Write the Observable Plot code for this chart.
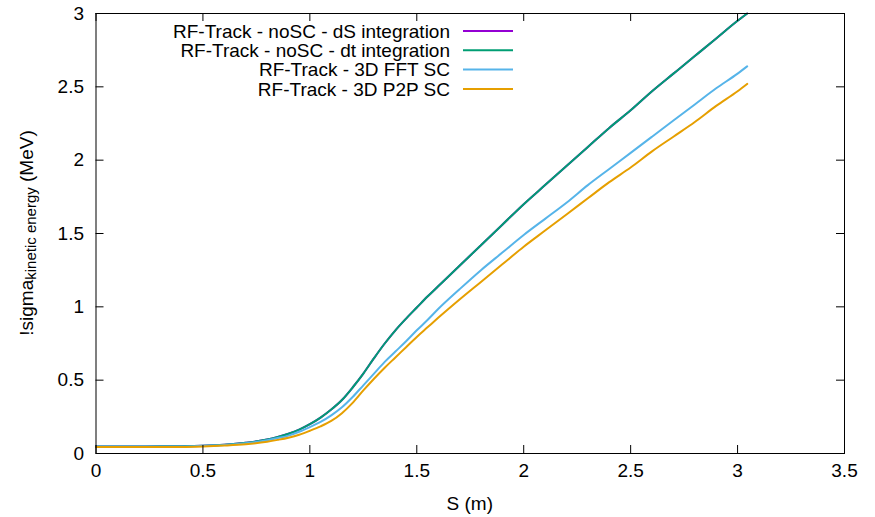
<!DOCTYPE html>
<html><head><meta charset="utf-8">
<script src="https://cdn.jsdelivr.net/npm/d3@7"></script>
<script src="https://cdn.jsdelivr.net/npm/@observablehq/plot@0.6"></script>
<style>body{margin:0;background:#fff}</style>
</head><body><div id="chart"></div>
<script>
// S positions (m)
const S = [0, 0.1, 0.2, 0.3, 0.4, 0.5, 0.6, 0.7, 0.8, 0.85, 0.9, 0.95, 1.0, 1.05, 1.1, 1.15, 1.2, 1.25, 1.3, 1.35, 1.4, 1.45, 1.5, 1.55, 1.6, 1.7, 1.8, 1.9, 2.0, 2.1, 2.2, 2.3, 2.4, 2.5, 2.6, 2.7, 2.8, 2.9, 3.0, 3.045];
// sigma kinetic energy (MeV)
const noSC_dS = [0.048, 0.048, 0.048, 0.049, 0.050, 0.053, 0.060, 0.073, 0.095, 0.113, 0.135, 0.163, 0.200, 0.245, 0.300, 0.365, 0.450, 0.545, 0.650, 0.750, 0.840, 0.920, 0.995, 1.070, 1.140, 1.280, 1.420, 1.560, 1.700, 1.830, 1.960, 2.090, 2.220, 2.340, 2.470, 2.590, 2.710, 2.830, 2.950, 3.000];
const noSC_dt = [0.048, 0.048, 0.048, 0.049, 0.050, 0.053, 0.060, 0.073, 0.095, 0.113, 0.135, 0.163, 0.200, 0.245, 0.300, 0.365, 0.450, 0.545, 0.650, 0.750, 0.840, 0.920, 0.995, 1.070, 1.140, 1.280, 1.420, 1.560, 1.700, 1.830, 1.960, 2.090, 2.220, 2.340, 2.470, 2.590, 2.710, 2.830, 2.950, 3.000];
const fftSC = [0.048, 0.048, 0.048, 0.048, 0.048, 0.052, 0.058, 0.070, 0.090, 0.105, 0.122, 0.148, 0.180, 0.215, 0.260, 0.315, 0.385, 0.465, 0.545, 0.625, 0.695, 0.765, 0.840, 0.910, 0.985, 1.120, 1.250, 1.370, 1.490, 1.600, 1.710, 1.830, 1.940, 2.050, 2.160, 2.270, 2.380, 2.490, 2.590, 2.640];
const p2pSC = [0.045, 0.045, 0.045, 0.045, 0.045, 0.048, 0.054, 0.063, 0.080, 0.093, 0.108, 0.128, 0.155, 0.185, 0.222, 0.275, 0.345, 0.430, 0.510, 0.585, 0.655, 0.725, 0.795, 0.860, 0.925, 1.050, 1.170, 1.290, 1.410, 1.520, 1.630, 1.740, 1.850, 1.950, 2.060, 2.160, 2.260, 2.370, 2.470, 2.520];

const seriesNames = ["RF-Track - noSC - dS integration", "RF-Track - noSC - dt integration", "RF-Track - 3D FFT SC", "RF-Track - 3D P2P SC"];
const seriesColors = ["#9400d3", "#009e73", "#56b4e9", "#e69f00"];
const seriesValues = [noSC_dS, noSC_dt, fftSC, p2pSC];

const xTicks = [0, 0.5, 1, 1.5, 2, 2.5, 3, 3.5];
const yTicks = [0, 0.5, 1, 1.5, 2, 2.5, 3];
const xLabel = "S (m)";

const W = 875, H = 517;
const mL = 95.5, mR = 31, mT = 13, mB = 64;
const innerH = H - mT - mB, innerW = W - mL - mR;
const tick = 8;

const lineMarks = seriesValues.map((vals, i) =>
  Plot.line(S.map((s, j) => ({s, v: vals[j]})), {x: "s", y: "v", stroke: seriesColors[i], strokeWidth: 2, curve: "monotone-x"})
);

const font = "'Liberation Sans', Arial, Helvetica, sans-serif";
const fs = "19px";
const plot = Plot.plot({
  width: W, height: H,
  marginLeft: mL, marginRight: mR, marginTop: mT, marginBottom: mB,
  style: {fontFamily: font, fontSize: fs, color: "black", background: "white", overflow: "visible"},
  x: {domain: [0, 3.5], label: null},
  y: {domain: [0, 3], label: null},
  marks: [
    ...lineMarks,
    Plot.tickX(xTicks, {x: d => d, insetTop: innerH - tick, stroke: "black"}),
    Plot.tickX(xTicks, {x: d => d, insetBottom: innerH - tick, stroke: "black"}),
    Plot.tickY(yTicks, {y: d => d, insetRight: innerW - tick, stroke: "black"}),
    Plot.tickY(yTicks, {y: d => d, insetLeft: innerW - tick, stroke: "black"}),
    Plot.axisX(xTicks, {tickSize: 0, tickPadding: 10, tickFormat: d => String(d), fill: "black"}),
    Plot.axisY(yTicks, {tickSize: 0, tickPadding: 12, tickFormat: d => String(d), fill: "black"}),
    Plot.frame({stroke: "black", strokeWidth: 1})
  ]
});
document.getElementById("chart").appendChild(plot);

const svg = d3.select(plot);
// x label
svg.append("text").attr("x", mL + innerW / 2).attr("y", 503).attr("dy", "0.35em")
  .attr("text-anchor", "middle").attr("font-family", font).attr("font-size", fs).attr("fill", "black")
  .text(xLabel);
// y label with subscript
const yl = svg.append("text").attr("transform", `translate(33,${mT + innerH / 2}) rotate(-90)`)
  .attr("text-anchor", "middle").attr("font-family", font).attr("font-size", fs).attr("fill", "black");
yl.append("tspan").text("!sigma");
yl.append("tspan").attr("font-size", "15px").attr("dy", 3).text("kinetic energy");
yl.append("tspan").attr("dy", -3).text(" (MeV)");

// legend
const legendRight = 450, sampleX1 = 463, sampleX2 = 513, row0 = 31, rowStep = 19.3;
seriesNames.forEach((name, i) => {
  const y = row0 + i * rowStep;
  svg.append("text").attr("x", legendRight).attr("y", y).attr("dy", "0.35em")
    .attr("text-anchor", "end").attr("font-family", font).attr("font-size", fs).attr("fill", "black")
    .text(name);
  svg.append("line").attr("x1", sampleX1).attr("x2", sampleX2).attr("y1", y).attr("y2", y)
    .attr("stroke", seriesColors[i]).attr("stroke-width", 2);
});
</script>
</body></html>
